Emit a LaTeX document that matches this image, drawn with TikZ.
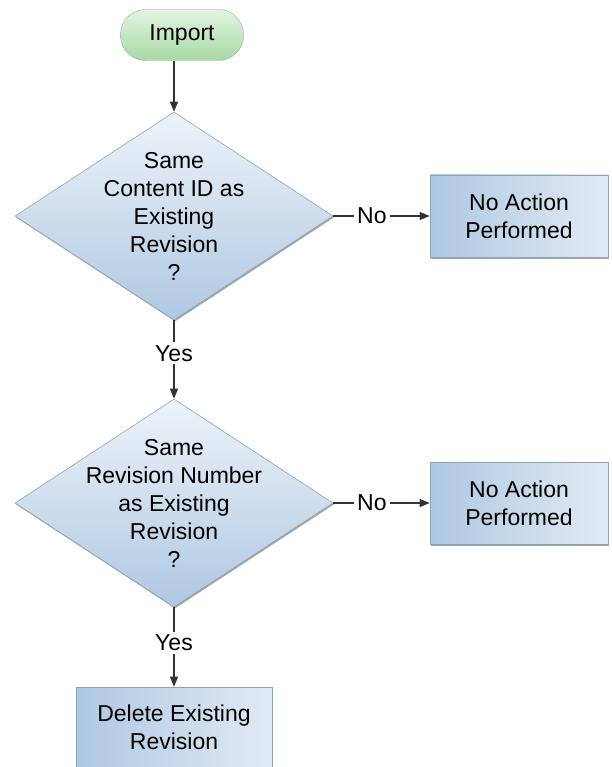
\documentclass[tikz,border=0pt]{standalone}
\usepackage{fontspec}
\setmainfont{Liberation Sans}
\usetikzlibrary{shapes.geometric,shadows,arrows.meta}
\definecolor{bordergray}{HTML}{8DA3BA}
\definecolor{bluelight}{HTML}{EEF3F9}
\definecolor{bluedark}{HTML}{AFC8E2}
\definecolor{greenlight}{HTML}{E2F5E1}
\definecolor{greendark}{HTML}{A6D9A6}
\begin{document}
\begin{tikzpicture}[x=1pt,y=-1pt,
  every node/.style={font=\fontsize{23}{28}\selectfont, text=black},
  shade/.style={drop shadow={shadow xshift=1pt, shadow yshift=-1.5pt, opacity=0.35, fill=black}},
  startbox/.style={draw=gray!70, rounded corners=25pt, minimum width=123pt, minimum height=51pt,
     top color=greenlight, bottom color=greendark, inner sep=0pt},
  decision/.style={diamond, draw=bordergray, line width=0.6pt, minimum width=318pt, minimum height=208pt,
     inner sep=0pt, top color=bluelight, bottom color=bluedark, shade},
  actionbox/.style={rectangle, draw=bordergray, line width=0.6pt, minimum height=82pt, inner sep=0pt,
     left color=bluedark, right color=bluelight!80!bluedark, shade},
  txt/.style={align=center, inner sep=0pt},
  lbl/.style={fill=white, inner sep=3pt},
  conn/.style={draw=black!80, line width=1.1pt, -{Triangle[length=10pt,width=8pt]}}
]
\useasboundingbox (0,0) rectangle (611,767);

\node[startbox] (imp) at (182,35) {};
\node[txt] (impt) at (imp.center) {Import};

\node[decision] (d1) at (174,216) {};
\node[txt] (d1t) at (d1.center) {Same\\Content ID as\\Existing\\Revision\\?};

\node[actionbox, minimum width=178pt] (b1) at (519,216) {};
\node[txt] (b1t) at (b1.center) {No Action\\Performed};

\node[decision] (d2) at (174,503) {};
\node[txt] (d2t) at (d2.center) {Same\\Revision Number\\as Existing\\Revision\\?};

\node[actionbox, minimum width=178pt] (b2) at (519,503) {};
\node[txt] (b2t) at (b2.center) {No Action\\Performed};

\node[actionbox, minimum width=196pt, minimum height=80pt] (b3) at (174,727) {};
\node[txt] (b3t) at (b3.center) {Delete Existing\\Revision};

\draw[conn] (imp.south -| d1.north) -- (d1.north);
\draw[conn] (d1.east) -- node[lbl, pos=0.4] {No} (b1.west);
\draw[conn] (d1.south) -- node[lbl, pos=0.42] {Yes} (d2.north);
\draw[conn] (d2.east) -- node[lbl, pos=0.4] {No} (b2.west);
\draw[conn] (d2.south) -- node[lbl, pos=0.45] {Yes} (b3.north);
\end{tikzpicture}
\end{document}
